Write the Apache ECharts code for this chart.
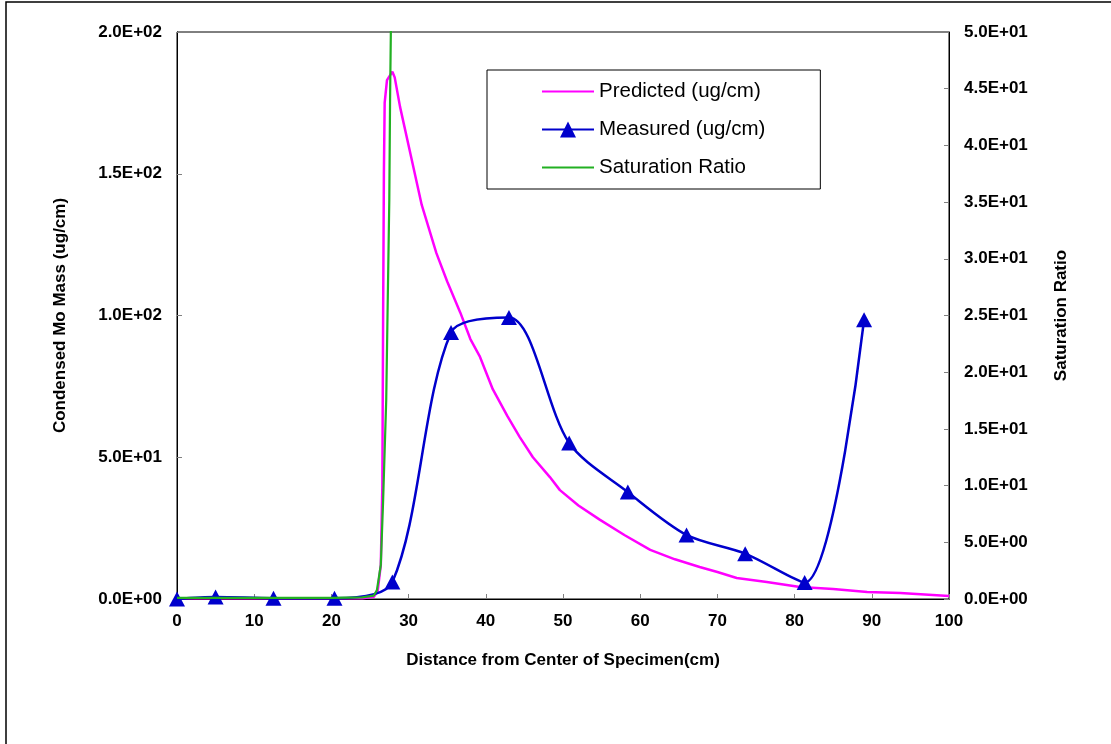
<!DOCTYPE html>
<html>
<head>
<meta charset="utf-8">
<script src="https://cdn.jsdelivr.net/npm/echarts@6/dist/echarts.min.js"></script>
<style>
html,body{margin:0;padding:0;background:#fff;}
#chart{width:1111px;height:744px;}
</style>
</head>
<body>
<div id="chart"></div>
<script>
// ---- data ----
const predX = [0, 5, 10, 15, 20, 24, 25.5, 26.0, 26.4, 26.6, 26.7, 26.8, 26.9, 27.2, 27.9, 28.2, 28.9, 30.4, 31.7, 33.6, 35.0, 36.7, 38.0, 39.2, 40.9, 42.8, 44.4, 46.1, 48.3, 49.6, 52, 54.8, 58, 61.3, 64.5, 67.7, 70, 72.5, 76.4, 80.7, 85, 89.4, 93.7, 100];
const predY = [0.3, 0.3, 0.3, 0.3, 0.3, 0.3, 0.8, 3, 12, 40, 100, 150, 175, 183, 186, 184, 173.5, 155, 139, 122, 112, 101, 91.7, 85.7, 74, 64.5, 57.1, 50, 43, 38.4, 33, 27.9, 22.5, 17.3, 14, 11.3, 9.5, 7.4, 6.0, 4.2, 3.5, 2.5, 2.1, 1.1];

const measX = [0, 5, 12.5, 20.4, 27.9, 35.5, 43, 50.8, 58.4, 66, 73.6, 81.3, 89];
const measY = [0, 0.7, 0.3, 0.3, 6, 94, 99.3, 55, 37.7, 22.6, 16, 5.8, 98.5];

const satX = [0, 5, 10, 15, 20, 24, 25.5, 25.9, 26.4, 26.7, 27.1, 27.3, 27.5, 27.6, 27.7, 27.9];
const satY = [0.1, 0.1, 0.1, 0.1, 0.1, 0.15, 0.3, 0.8, 3, 8.7, 17.5, 26.4, 35.2, 44, 50, 60];

const xTicks = [0, 10, 20, 30, 40, 50, 60, 70, 80, 90, 100];
const leftTicks = ['0.0E+00', '5.0E+01', '1.0E+02', '1.5E+02', '2.0E+02'];
const rightTicks = ['0.0E+00', '5.0E+00', '1.0E+01', '1.5E+01', '2.0E+01', '2.5E+01', '3.0E+01', '3.5E+01', '4.0E+01', '4.5E+01', '5.0E+01'];

const seriesNames = ['Predicted (ug/cm)', 'Measured (ug/cm)', 'Saturation Ratio'];

// ---- build ----
const pairs = (xs, ys) => xs.map((x, i) => [x, ys[i]]);
const FONT = '"Liberation Sans", Arial, sans-serif';
const tickStyle = { fontFamily: FONT, fontWeight: 'bold', fontSize: 17, color: '#000' };
const titleStyle = { fontFamily: FONT, fontWeight: 'bold', fontSize: 17, color: '#000' };

const chart = echarts.init(document.getElementById('chart'), null, { renderer: 'canvas' });
chart.setOption({
  backgroundColor: '#fff',
  animation: false,
  graphic: [{
    type: 'rect', silent: true, z: 0,
    shape: { x: 6, y: 2, width: 1200, height: 800 },
    style: { fill: 'none', stroke: '#000', lineWidth: 1.5 }
  }],
  grid: {
    left: 177, top: 32, right: 162, bottom: 145,
    show: true, borderColor: '#000', borderWidth: 1, backgroundColor: 'transparent'
  },
  legend: {
    orient: 'vertical',
    left: 487, top: 70,
    data: [
      { name: seriesNames[0], itemStyle: { opacity: 0 } },
      { name: seriesNames[1] },
      { name: seriesNames[2], itemStyle: { opacity: 0 } }
    ],
    padding: [11, 55, 11, 54],
    itemWidth: 52, itemHeight: 20, itemGap: 17,
    borderColor: '#000', borderWidth: 1,
    backgroundColor: '#fff',
    textStyle: { fontFamily: FONT, fontSize: 20.5, color: '#000', lineHeight: 20 }
  },
  xAxis: {
    type: 'value', min: 0, max: 100, interval: 10,
    name: 'Distance from Center of Specimen(cm)',
    nameLocation: 'middle', nameGap: 53, nameTextStyle: titleStyle,
    axisLine: { show: true, lineStyle: { color: '#000', width: 1 } },
    axisTick: { show: true, inside: true, length: 5, lineStyle: { color: '#808080' } },
    axisLabel: Object.assign({ margin: 14, formatter: v => String(xTicks[Math.round(v / 10)]) }, tickStyle),
    splitLine: { show: false }
  },
  yAxis: [{
    type: 'value', min: 0, max: 200, interval: 50, position: 'left',
    name: 'Condensed Mo Mass (ug/cm)',
    nameLocation: 'middle', nameGap: 108, nameRotate: 90, nameTextStyle: titleStyle,
    axisLine: { show: true, lineStyle: { color: '#000', width: 1 } },
    axisTick: { show: true, inside: true, length: 5, lineStyle: { color: '#808080' } },
    axisLabel: Object.assign({ margin: 15, formatter: v => leftTicks[Math.round(v / 50)] }, tickStyle),
    splitLine: { show: false }
  }, {
    type: 'value', min: 0, max: 50, interval: 5, position: 'right',
    name: 'Saturation Ratio',
    nameLocation: 'middle', nameGap: 104, nameRotate: 90, nameTextStyle: titleStyle,
    axisLine: { show: true, lineStyle: { color: '#000', width: 1 } },
    axisTick: { show: true, inside: true, length: 5, lineStyle: { color: '#808080' } },
    axisLabel: Object.assign({ margin: 15, formatter: v => rightTicks[Math.round(v / 5)] }, tickStyle),
    splitLine: { show: false }
  }],
  series: [{
    name: seriesNames[0], type: 'line', yAxisIndex: 0,
    data: pairs(predX, predY),
    symbol: 'none', smooth: false, clip: true,
    color: '#FF00FF',
    lineStyle: { color: '#FF00FF', width: 2.5 },
    z: 2
  }, {
    name: seriesNames[1], type: 'line', yAxisIndex: 0,
    data: pairs(measX, measY),
    symbol: 'triangle', symbolSize: [16, 15], showSymbol: true,
    smooth: 0.3, clip: true,
    color: '#0000CC',
    itemStyle: { color: '#0000CC' },
    lineStyle: { color: '#0000CC', width: 2.5 },
    z: 3
  }, {
    name: seriesNames[2], type: 'line', yAxisIndex: 1,
    data: pairs(satX, satY),
    symbol: 'none', smooth: false, clip: true,
    color: '#22B022',
    lineStyle: { color: '#22B022', width: 2.2 },
    z: 4
  }]
});
</script>
</body>
</html>
